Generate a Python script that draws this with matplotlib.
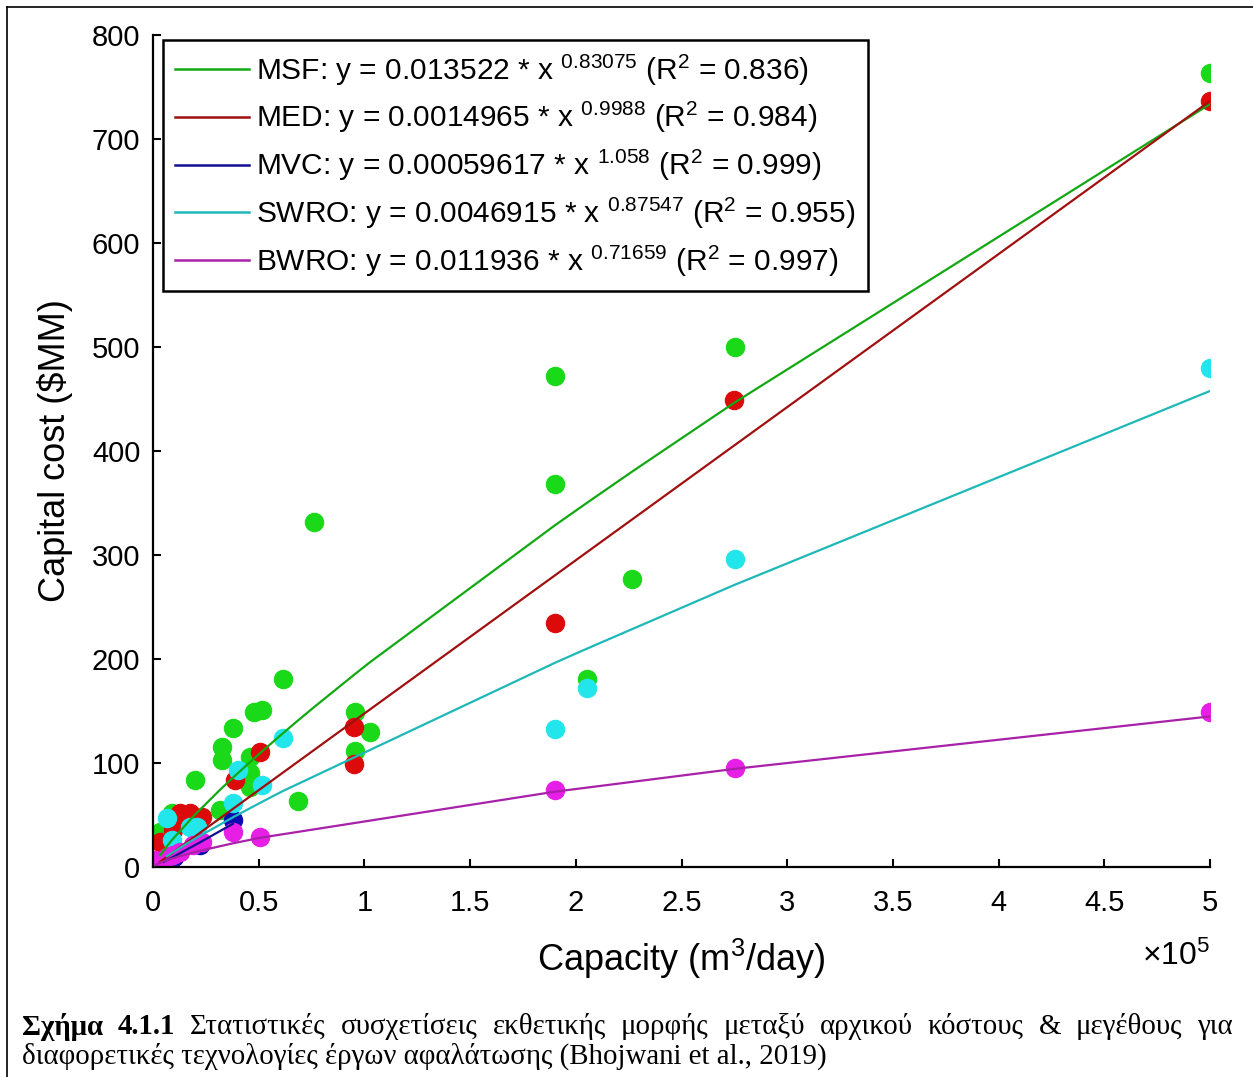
"""Capital cost vs capacity for desalination technologies (power-law fits)."""

import numpy as np
import matplotlib.pyplot as plt
from matplotlib.lines import Line2D

plt.rcParams["font.family"] = ["Liberation Sans", "DejaVu Sans"]
plt.rcParams["mathtext.fontset"] = "custom"
plt.rcParams["mathtext.rm"] = "Liberation Sans"
plt.rcParams["mathtext.default"] = "regular"

# data (capacity in m3/day, cost in $MM)
msf_x = [5.0, 2.753, 1.902, 1.902, 2.266, 2.053, 0.762, 0.615, 0.516, 0.48, 0.378,
         0.326, 0.326, 0.199, 0.459, 0.459, 0.459, 0.317, 0.686, 0.955, 1.026, 0.955,
         0.09, 0.033]
msf_y = [763, 500, 472, 368, 277, 181, 332, 181, 151, 149, 134, 115, 103, 84, 106, 90,
         77, 55, 63, 149, 130, 112, 52, 34]
med_x = [5.0, 2.75, 1.9, 0.95, 0.95, 0.506, 0.39, 0.175, 0.232, 0.142, 0.128, 0.095, 0.033]
med_y = [737, 449, 235, 135, 99, 111, 84, 52, 48, 45, 52, 36, 24]
mvc_x = [0.378, 0.22, 0.1, 0.05]
mvc_y = [45, 21, 10, 5]
swro_x = [5.0, 2.753, 1.902, 2.053, 0.615, 0.516, 0.40, 0.378, 0.066, 0.175, 0.208, 0.09]
swro_y = [480, 296, 133, 172, 124, 79, 93, 62, 47, 38, 38, 26]
bwro_x = [5.0, 2.753, 1.902, 0.506, 0.378, 0.232, 0.19, 0.128, 0.095, 0.066, 0.01, 0.033]
bwro_y = [149, 95, 74, 29, 34, 24, 21, 14, 12, 10, 7, 2]

names = ["MSF", "MED", "MVC", "SWRO", "BWRO"]
coef_a = [0.013522, 0.0014965, 0.00059617, 0.0046915, 0.011936]
coef_b = ["0.83075", "0.9988", "1.058", "0.87547", "0.71659"]
r2 = ["0.836", "0.984", "0.999", "0.955", "0.997"]
a_txt = ["0.013522", "0.0014965", "0.00059617", "0.0046915", "0.011936"]

xs = [msf_x, med_x, mvc_x, swro_x, bwro_x]
ys = [msf_y, med_y, mvc_y, swro_y, bwro_y]
pt_colors = ["#19d919", "#dc0a0a", "#0a0ab4", "#23e6ec", "#e61ee6"]
ln_colors = ["#12a812", "#a01010", "#101090", "#1fb8b8", "#a821a8"]

fig = plt.figure(figsize=(12.53, 10.77), dpi=100)
ax = fig.add_axes([0.1221, 0.195, 0.8436, 0.7725])

handles = []
for name, x, y, a, b, r, at, pc, lc in zip(names, xs, ys, coef_a, coef_b, r2, a_txt,
                                          pt_colors, ln_colors):
    x = np.array(x) * 1e5
    ax.scatter(x, y, s=175, color=pc, edgecolors=pc, linewidths=0.8, zorder=2)
    xf = np.sort(x)
    ax.plot(xf, a * xf ** float(b), color=lc, lw=1.6, zorder=3)
    handles.append(Line2D([], [], color=lc, lw=1.8,
                          label=f"{name}: y = {at} * x $^{{{b}}}$ (R$^2$ = {r})"))

ax.set_xlim(0, 5e5)
ax.set_ylim(0, 800)
ax.set_xticks(np.arange(0, 5.01e5, 0.5e5))
ax.set_xticklabels(["0", "0.5", "1", "1.5", "2", "2.5", "3", "3.5", "4", "4.5", "5"])
ax.set_yticks(np.arange(0, 801, 100))
ax.tick_params(direction="in", length=6, width=1.5, labelsize=21, pad=9)
ax.tick_params(axis="x", pad=16)
for s in ["top", "right"]:
    ax.spines[s].set_visible(False)
for s in ["left", "bottom"]:
    ax.spines[s].set_linewidth(1.6)

ax.set_ylabel("Capital cost ($MM)", fontsize=26, labelpad=14)
ax.set_xlabel("Capacity (m$^3$/day)", fontsize=26, labelpad=14)
ax.text(1.0, -0.108, r"$\times$10$^5$", transform=ax.transAxes, fontsize=23,
        ha="right", va="center")

leg = ax.legend(handles=handles, loc="upper left", bbox_to_anchor=(0.130, 0.963),
                bbox_transform=fig.transFigure, fontsize=21.5, handlelength=2.45,
                handletextpad=0.25, labelspacing=0.42, borderpad=0.42,
                borderaxespad=0, fancybox=False, framealpha=1, edgecolor="black")
leg.get_frame().set_linewidth(1.8)

# page frame (left and top)
fig.add_artist(Line2D([7 / 1253, 7 / 1253], [0, 1 - 7 / 1077], color="black", lw=1.2,
                      transform=fig.transFigure))
fig.add_artist(Line2D([7 / 1253, 1], [1 - 7 / 1077, 1 - 7 / 1077], color="black", lw=1.2,
                      transform=fig.transFigure))

# caption, first line justified
cap_font = "Liberation Serif"
cap_size = 20.8
line1 = ["Σχήμα", "4.1.1", "Στατιστικές", "συσχετίσεις", "εκθετικής", "μορφής",
         "μεταξύ", "αρχικού", "κόστους", "&", "μεγέθους", "για"]
line2 = "διαφορετικές τεχνολογίες έργων αφαλάτωσης (Bhojwani et al., 2019)"
x0, x1 = 22 / 1253, 1233 / 1253
y1, y2 = 1 - 1027 / 1077, 1 - 1056 / 1077
renderer = fig.canvas.get_renderer()
texts = []
for i, w in enumerate(line1):
    t = fig.text(0, y1, w, fontsize=cap_size, family=cap_font, va="center",
                 fontweight="bold" if i < 2 else "normal")
    texts.append(t)
widths = [t.get_window_extent(renderer).width / fig.bbox.width for t in texts]
gap = (x1 - x0 - sum(widths)) / (len(texts) - 1)
pos = x0
for t, w in zip(texts, widths):
    t.set_x(pos)
    pos += w + gap
fig.text(x0, y2, line2, fontsize=cap_size, family=cap_font, va="center")

plt.savefig("out.png", dpi=100)
